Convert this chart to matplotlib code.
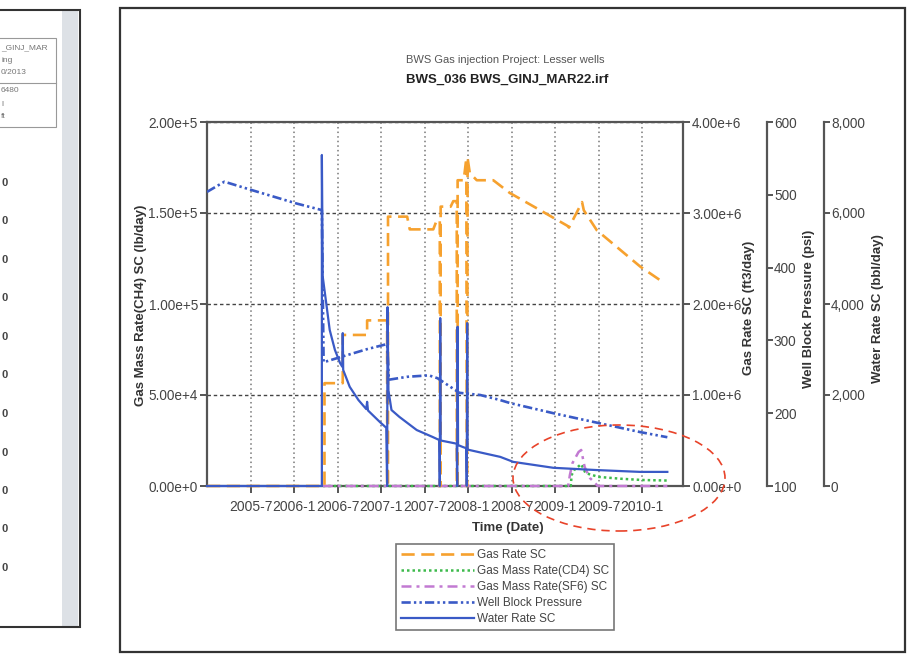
import matplotlib
matplotlib.use("Agg")
import matplotlib.pyplot as plt
from matplotlib.patches import Ellipse, Rectangle
from matplotlib.lines import Line2D

plt.rcParams['font.family'] = ['Liberation Sans', 'DejaVu Sans']

W, H = 923, 662

# x axis (decimal years), 6-month ticks
tick_years = [2005.5, 2006.0, 2006.5, 2007.0, 2007.5, 2008.0, 2008.5, 2009.0, 2009.5, 2010.0]
tick_labels = ["2005-7", "2006-1", "2006-7", "2007-1", "2007-7",
               "2008-1", "2008-7", "2009-1", "2009-7", "2010-1"]

left_ticks = [0, 5e4, 1e5, 1.5e5, 2e5]
left_tick_labels = ["0.00e+0", "5.00e+4", "1.00e+5", "1.50e+5", "2.00e+5"]
gas_ticks = [0, 1e6, 2e6, 3e6, 4e6]
gas_tick_labels = ["0.00e+0", "1.00e+6", "2.00e+6", "3.00e+6", "4.00e+6"]
pres_ticks = [100, 200, 300, 400, 500, 600]
water_ticks = [0, 2000, 4000, 6000, 8000]
water_tick_labels = ["0", "2,000", "4,000", "6,000", "8,000"]

# Gas Rate SC (ft3/day)
gas_t = [2005.0, 2006.35, 2006.35, 2006.56, 2006.56, 2006.84, 2006.84, 2007.07, 2007.07,
         2007.08, 2007.08, 2007.30, 2007.33, 2007.60, 2007.64, 2007.675, 2007.675, 2007.685,
         2007.685, 2007.80, 2007.83, 2007.87, 2007.87, 2007.88, 2007.88, 2007.95, 2007.98,
         2007.985, 2007.99, 2007.995, 2008.02, 2008.10, 2008.29, 2008.48, 2008.83, 2009.14,
         2009.16, 2009.31, 2009.33, 2009.48, 2009.98, 2010.24]
gas_v = [0, 0, 1.13e6, 1.13e6, 1.66e6, 1.66e6, 1.82e6, 1.82e6, 0,
         0, 2.96e6, 2.96e6, 2.82e6, 2.82e6, 2.92e6, 2.92e6, 0, 0,
         3.07e6, 3.07e6, 3.13e6, 3.13e6, 0, 0, 3.36e6, 3.36e6, 3.60e6,
         0, 0, 3.60e6, 3.44e6, 3.36e6, 3.36e6, 3.22e6, 3.03e6, 2.86e6,
         2.84e6, 3.12e6, 3.03e6, 2.81e6, 2.41e6, 2.24e6]

# Gas Mass Rate(CD4) SC (lb/day)
cd4_t = [2006.33, 2009.18, 2009.19, 2009.22, 2009.30, 2009.35, 2009.50, 2009.75, 2010.0, 2010.29]
cd4_v = [0, 0, 6000, 8800, 12000, 7100, 5000, 4000, 3300, 3000]

# Gas Mass Rate(SF6) SC (lb/day)
sf6_t = [2006.33, 2009.15, 2009.17, 2009.20, 2009.27, 2009.30, 2009.34, 2009.40, 2009.46, 2009.49, 2010.29]
sf6_v = [0, 0, 6000, 12600, 18700, 19800, 10400, 4400, 1600, 0, 0]

# Well Block Pressure (psi)
pres_t = [2005.0, 2005.2, 2005.5, 2006.03, 2006.32, 2006.34, 2006.56, 2006.84, 2007.07,
          2007.09, 2007.30, 2007.55, 2007.65, 2007.90, 2008.14, 2008.37, 2008.48, 2008.98,
          2009.48, 2009.98, 2010.29]
pres_v = [504, 518, 507, 488, 479, 270, 278, 288, 295,
          246, 250, 252, 248, 228, 225, 218, 214, 200,
          187, 174, 167]

# Water Rate SC (bbl/day)
water_t = [2005.0, 2006.32, 2006.32, 2006.33, 2006.37, 2006.41, 2006.47, 2006.53, 2006.555,
           2006.56, 2006.565, 2006.64, 2006.74, 2006.83, 2006.84, 2006.85, 2006.99, 2007.06,
           2007.07, 2007.075, 2007.085, 2007.12, 2007.21, 2007.41, 2007.59, 2007.67, 2007.675,
           2007.68, 2007.685, 2007.83, 2007.87, 2007.875, 2007.88, 2007.885, 2007.94, 2007.98,
           2007.985, 2007.99, 2007.995, 2008.17, 2008.37, 2008.52, 2008.98, 2009.48, 2009.98,
           2010.29]
water_v = [0, 0, 7275, 4600, 4020, 3430, 2990, 2700, 2620,
           3360, 2550, 2180, 1890, 1690, 1850, 1660, 1400, 1280,
           0, 3930, 2100, 1670, 1520, 1230, 1080, 1010, 0,
           3690, 1000, 945, 930, 0, 3500, 900, 857, 830,
           0, 3580, 800, 725, 640, 530, 400, 350, 310,
           310]


def fx(px):
    return px / W


def fy(py):
    return 1 - py / H


fig = plt.figure(figsize=(W / 100, H / 100), dpi=100)

ax = fig.add_axes([fx(207), fy(486), (683 - 207) / W, (486 - 122) / H])
ax2 = ax.twinx()
ax3 = ax.twinx()
ax4 = ax.twinx()

orange = '#f6a12e'
green = '#3dba4c'
purple = '#c27ad2'
blue = '#3a5ac6'

l_cd4, = ax.plot(cd4_t, cd4_v, color=green, lw=1.8, dashes=(1, 1.2), clip_on=False, zorder=3)
l_sf6, = ax.plot(sf6_t, sf6_v, color=purple, lw=1.8, dashes=(4, 2, 1.2, 2), clip_on=False, zorder=3)
l_gas, = ax2.plot(gas_t, gas_v, color=orange, lw=1.9, dashes=(5, 2.5), clip_on=False)
l_pres, = ax3.plot(pres_t, pres_v, color=blue, lw=1.9, dashes=(3.5, 1.2, 0.9, 1.2, 0.9, 1.2))
l_water, = ax4.plot(water_t, water_v, color=blue, lw=1.6, clip_on=False)

xlim = (2005.0, 2010.47)
for a in (ax, ax2, ax3, ax4):
    a.set_xlim(*xlim)

ax.set_ylim(0, 2e5)
ax2.set_ylim(0, 4e6)
ax3.set_ylim(100, 600)
ax4.set_ylim(0, 8000)

spine_c = '#555555'
lab_c = '#444444'

ax.set_xticks(tick_years)
ax.set_xticklabels(tick_labels)
ax.set_yticks(left_ticks)
ax.set_yticklabels(left_tick_labels)
ax.tick_params(axis='x', direction='out', length=5, width=1.4, color=spine_c,
               labelcolor=lab_c, labelsize=10, pad=5)
ax.tick_params(axis='y', direction='out', length=5, width=1.4, color=spine_c,
               labelcolor=lab_c, labelsize=9.8, pad=1.5)
ax.grid(axis='x', color='#777777', ls=(0, (1, 2)), lw=1.1)
ax.grid(axis='y', color='#444444', ls=(0, (2.5, 2)), lw=1.0)
ax.set_axisbelow(True)
for s in ('left', 'top', 'bottom'):
    ax.spines[s].set_color(spine_c)
    ax.spines[s].set_linewidth(1.6)
ax.spines['right'].set_visible(False)

ax2.set_yticks(gas_ticks)
ax2.set_yticklabels(gas_tick_labels)
ax3.set_yticks(pres_ticks)
ax4.set_yticks(water_ticks)
ax4.set_yticklabels(water_tick_labels)

ax3.spines['right'].set_position(('axes', (767 - 207) / 476))
ax4.spines['right'].set_position(('axes', (824 - 207) / 476))
for a in (ax2, ax3, ax4):
    for s in ('left', 'top', 'bottom'):
        a.spines[s].set_visible(False)
    a.spines['right'].set_color(spine_c)
    a.spines['right'].set_linewidth(1.6)
ax2.tick_params(axis='y', direction='out', length=5, width=1.4, color=spine_c,
                labelcolor=lab_c, labelsize=9.8, pad=1.5)
for a in (ax3, ax4):
    a.tick_params(axis='y', direction='out', length=4, width=1.4, color=spine_c,
                  labelcolor=lab_c, labelsize=9.8, pad=1)

# titles and axis labels
fig.text(fx(505), fy(60), "BWS Gas injection Project: Lesser wells", ha='center', va='center',
         fontsize=8, color='#555555')
fig.text(fx(507), fy(80), "BWS_036 BWS_GINJ_MAR22.irf", ha='center', va='center',
         fontsize=9.5, fontweight='bold', color='#222222')
fig.text(fx(508), fy(528), "Time (Date)", ha='center', va='center', fontsize=9.5,
         fontweight='bold', color='#333333')
ylab_kw = dict(ha='center', va='center', rotation=90, fontsize=9.5, fontweight='bold', color='#333333')
fig.text(fx(141), fy(305), "Gas Mass Rate(CH4) SC (lb/day)", **ylab_kw)
fig.text(fx(749), fy(308), "Gas Rate SC (ft3/day)", **ylab_kw)
fig.text(fx(809), fy(309), "Well Block Pressure (psi)", **ylab_kw)
fig.text(fx(878), fy(309), "Water Rate SC (bbl/day)", **ylab_kw)

# legend
handles = [Line2D([], [], color=orange, lw=1.9, dashes=(5, 2.5)),
           Line2D([], [], color=green, lw=1.8, dashes=(1, 1.2)),
           Line2D([], [], color=purple, lw=1.8, dashes=(4, 2, 1.2, 2)),
           Line2D([], [], color=blue, lw=1.9, dashes=(3.5, 1.2, 0.9, 1.2, 0.9, 1.2)),
           Line2D([], [], color=blue, lw=1.6)]
labels = ["Gas Rate SC", "Gas Mass Rate(CD4) SC", "Gas Mass Rate(SF6) SC",
          "Well Block Pressure", "Water Rate SC"]
leg = fig.legend(handles, labels, loc='upper left', bbox_to_anchor=(fx(396), fy(544)),
                 frameon=True, fancybox=False, edgecolor='#555555', fontsize=8.5,
                 handlelength=6.2, handletextpad=0.3, labelspacing=0.35, borderpad=0.4,
                 borderaxespad=0)
leg.get_frame().set_linewidth(1.2)
for t in leg.get_texts():
    t.set_color('#444444')

# red dashed highlight ellipse
fig.add_artist(Ellipse((fx(619), fy(478)), 212 / W, 106 / H, transform=fig.transFigure,
                       fill=False, ec='#e8432a', lw=1.2, ls=(0, (5, 3.5))))

# main panel border
fig.add_artist(Rectangle((fx(120), fy(652)), (905 - 120) / W, (652 - 8) / H,
                         transform=fig.transFigure, fill=False, ec='#333333', lw=1.6))

# partial left panel
fig.add_artist(Rectangle((fx(62), fy(627)), 16 / W, (627 - 10) / H, transform=fig.transFigure,
                         fc='#dde1e6', ec='none'))
fig.add_artist(Rectangle((fx(-10), fy(627)), 90 / W, (627 - 10) / H, transform=fig.transFigure,
                         fill=False, ec='#333333', lw=1.5, clip_on=False))
fig.add_artist(Rectangle((fx(-5), fy(127)), 61 / W, (127 - 38) / H, transform=fig.transFigure,
                         fill=False, ec='#999999', lw=0.8, clip_on=False))
fig.add_artist(Line2D([fx(-5), fx(56)], [fy(83), fy(83)], transform=fig.transFigure,
                      color='#999999', lw=0.8))
side_rows = [(48, "_GINJ_MAR"), (61, "ing"), (73, "0/2013"), (91, "6480"), (104, "l"), (117, "ft")]
for yy, s in side_rows:
    fig.text(fx(1), fy(yy), s, ha='left', va='center', fontsize=6, color='#777777')
for i in range(11):
    fig.text(fx(8), fy(183 + 38.5 * i), "0", ha='right', va='center', fontsize=8,
             fontweight='bold', color='#444444')

fig.savefig("out.png", dpi=100)
